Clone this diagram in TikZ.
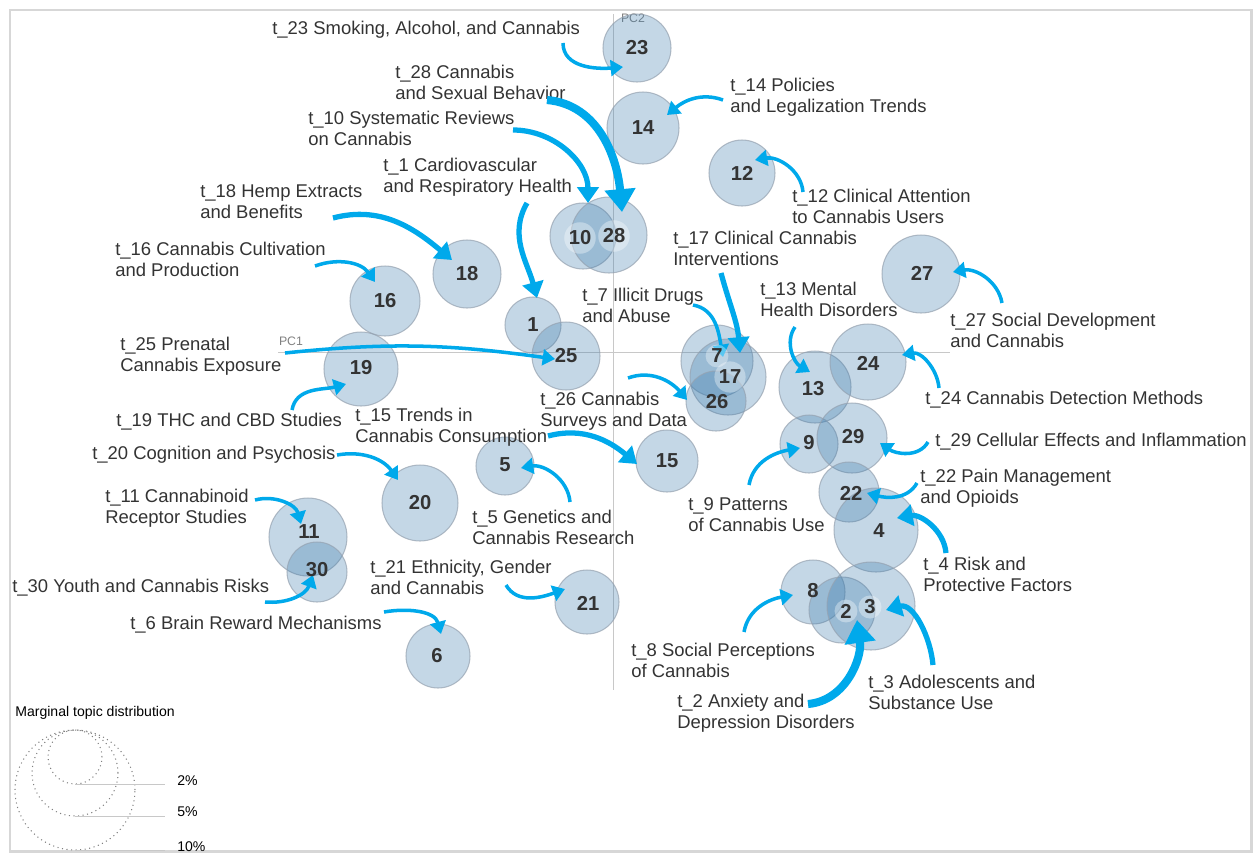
\documentclass[tikz,border=0pt]{standalone}
\usepackage{fontspec}
\setmainfont{Liberation Sans}
\usetikzlibrary{arrows.meta}
\definecolor{arrowblue}{RGB}{0,169,235}
\definecolor{bubblefill}{RGB}{58,122,172}
\definecolor{bubbleline}{RGB}{150,162,176}
\definecolor{labeltext}{RGB}{51,51,51}
\definecolor{framegray}{RGB}{215,215,215}
\definecolor{axisgray}{RGB}{200,200,200}

\begin{document}
\begin{tikzpicture}[x=0.02cm, y=-0.02cm,
bubble/.style={circle, fill=bubblefill, fill opacity=0.3, draw=bubbleline, draw opacity=0.7, line width=0.6pt, minimum size=#1*0.4mm, inner sep=0},
num/.style={font=\fontsize{11.5}{12}\selectfont\bfseries, text=labeltext, inner sep=0},
halo/.style={num, circle, fill=white, fill opacity=0.35, text opacity=1, inner sep=1pt},
topic/.style={anchor=west, align=left, inner sep=0, text=labeltext, font=\fontsize{10.5}{11.9}\selectfont},
pointer/.style={draw=arrowblue, line width=2pt, -{Triangle[width=9pt,length=7pt]}},
pointer thick/.style={pointer, line width=3pt, -{Triangle[width=12pt,length=9pt]}},
pointer heavy/.style={pointer, line width=4.6pt, -{Triangle[width=17pt,length=13pt]}},
axis/.style={draw=axisgray, line width=0.5pt},
pclabel/.style={text=gray, font=\fontsize{7}{8}\selectfont, inner sep=0},
ring/.style={circle, draw=gray, dotted, line width=0.6pt, minimum size=#1*0.4mm, inner sep=0},
legendtext/.style={anchor=west, inner sep=0, font=\fontsize{8}{9}\selectfont}]

\useasboundingbox (0,0) rectangle (1255,853);
\draw[draw=framegray, line width=1.7pt] (10,10) rectangle (1251,851);

% principal components
\draw[axis] (613,14) -- (613,690);
\draw[axis] (278,352) -- (950,352);
\node[pclabel] (pc2) at (633,18) {PC2};
\node[pclabel] (pc1) at (291,341) {PC1};

% topic bubbles
\node[bubble=34] (b23) at (637,48) {};
\node[bubble=36] (b14) at (643,128) {};
\node[bubble=33] (b12) at (742,173) {};
\node[bubble=33] (b10) at (583,236) {};
\node[bubble=38] (b28) at (609,235) {};
\node[bubble=34] (b18) at (467,274) {};
\node[bubble=35] (b16) at (385,301) {};
\node[bubble=28] (b1) at (533,325) {};
\node[bubble=34] (b25) at (566,356) {};
\node[bubble=37] (b19) at (361,369) {};
\node[bubble=36] (b7) at (717,361) {};
\node[bubble=38] (b17) at (728,377) {};
\node[bubble=30] (b26) at (716,401) {};
\node[bubble=36] (b13) at (815,387) {};
\node[bubble=38] (b24) at (868,362) {};
\node[bubble=29] (b9) at (809,444) {};
\node[bubble=35] (b29) at (852,438) {};
\node[bubble=30] (b22) at (849,492) {};
\node[bubble=42] (b4) at (876,530) {};
\node[bubble=39] (b27) at (921,274) {};
\node[bubble=32] (b8) at (813,592) {};
\node[bubble=33] (b2) at (842,610) {};
\node[bubble=44] (b3) at (871,606) {};
\node[bubble=31] (b15) at (667,461) {};
\node[bubble=29] (b5) at (505,466) {};
\node[bubble=38] (b20) at (420,503) {};
\node[bubble=39] (b11) at (308,537) {};
\node[bubble=30] (b30) at (317,572) {};
\node[bubble=32] (b21) at (587,602) {};
\node[bubble=32] (b6) at (438,656) {};

% topic names
\node[topic] (l23) at (272,30) {t\_23 Smoking, Alcohol, and Cannabis};
\node[topic] (l28) at (395,82) {t\_28 Cannabis\\and Sexual Behavior};
\node[topic] (l10) at (308,128) {t\_10 Systematic Reviews\\on Cannabis};
\node[topic] (l1) at (383,177) {t\_1 Cardiovascular\\and Respiratory Health};
\node[topic] (l18) at (200,201.5) {t\_18 Hemp Extracts\\and Benefits};
\node[topic] (l16) at (115,259.5) {t\_16 Cannabis Cultivation\\and Production};
\node[topic] (l25) at (120,356.5) {t\_25 Prenatal\\Cannabis Exposure};
\node[topic] (l19) at (116,422) {t\_19 THC and CBD Studies};
\node[topic] (l15) at (355,427.5) {t\_15 Trends in\\Cannabis Consumption};
\node[topic] (l26) at (540,411) {t\_26 Cannabis\\Surveys and Data};
\node[topic] (l20) at (92,455) {t\_20 Cognition and Psychosis};
\node[topic] (l5) at (472,527.5) {t\_5 Genetics and\\Cannabis Research};
\node[topic] (l11) at (105,508) {t\_11 Cannabinoid\\Receptor Studies};
\node[topic] (l30) at (12,588) {t\_30 Youth and Cannabis Risks};
\node[topic] (l6) at (130,625) {t\_6 Brain Reward Mechanisms};
\node[topic] (l21) at (370,577) {t\_21 Ethnicity, Gender\\and Cannabis};
\node[topic] (l7) at (582,305.5) {t\_7 Illicit Drugs\\and Abuse};
\node[topic] (l17) at (673,248.5) {t\_17 Clinical Cannabis\\Interventions};
\node[topic] (l13) at (760,299.5) {t\_13 Mental\\Health Disorders};
\node[topic] (l14) at (730,97) {t\_14 Policies\\and Legalization Trends};
\node[topic] (l12) at (792,206.5) {t\_12 Clinical Attention\\to Cannabis Users};
\node[topic] (l27) at (950,330.5) {t\_27 Social Development\\and Cannabis};
\node[topic] (l24) at (925,400) {t\_24 Cannabis Detection Methods};
\node[topic] (l29) at (935,442) {t\_29 Cellular Effects and Inflammation};
\node[topic] (l22) at (920,488) {t\_22 Pain Management\\and Opioids};
\node[topic] (l4) at (923,574.5) {t\_4 Risk and\\Protective Factors};
\node[topic] (l9) at (688,515) {t\_9 Patterns\\of Cannabis Use};
\node[topic] (l8) at (631,660.5) {t\_8 Social Perceptions\\of Cannabis};
\node[topic] (l2) at (677,713) {t\_2 Anxiety and\\Depression Disorders};
\node[topic] (l3) at (868,692.5) {t\_3 Adolescents and\\Substance Use};

% pointers from names to bubbles
\draw[pointer] ([shift={(291,13)}]l23.west) to[out=270,in=185] ([shift={(-14,19)}]b23.center);
\draw[pointer heavy] ([shift={(152,18)}]l28.west) to[out=-5,in=95] ([shift={(13,-23)}]b28.center);
\draw[pointer thick] ([shift={(205,2)}]l10.west) to[out=0,in=90] ([shift={(5,-33)}]b10.center);
\draw[pointer thick] ([shift={(144,26)}]l1.west) to[out=240,in=105] ([shift={(4,-27)}]b1.center);
\draw[pointer thick] ([shift={(133,16.5)}]l18.west) to[out=15,in=140] ([shift={(-15,-14)}]b18.center);
\draw[pointer] ([shift={(200,6.5)}]l16.west) to[out=20,in=125] ([shift={(-10,-19)}]b16.center);
\draw[pointer] ([shift={(165,-3.5)}]l25.west) to[out=6,in=172] ([shift={(-11,3)}]b25.center);
\draw[pointer] ([shift={(176,-12)}]l19.west) to[out=80,in=195] ([shift={(-15,15)}]b19.center);
\draw[pointer thick] ([shift={(193,8.5)}]l15.west) to[out=15,in=140] ([shift={(-30,3)}]b15.center);
\draw[pointer] ([shift={(88,-33)}]l26.west) to[out=20,in=130] ([shift={(-29,-1)}]b26.center);
\draw[pointer] ([shift={(245,0)}]l20.west) to[out=10,in=125] ([shift={(-22,-23)}]b20.center);
\draw[pointer] ([shift={(98,-25.5)}]l5.west) to[out=95,in=10] ([shift={(16,2)}]b5.center);
\draw[pointer] ([shift={(150,-8)}]l11.west) to[out=15,in=105] ([shift={(-7,-13)}]b11.center);
\draw[pointer] ([shift={(253,14)}]l30.west) to[out=-5,in=250] ([shift={(-4,3)}]b30.center);
\draw[pointer] ([shift={(254,-13)}]l6.west) to[out=10,in=105] ([shift={(3,-22)}]b6.center);
\draw[pointer] ([shift={(136,8)}]l21.west) to[out=-60,in=200] ([shift={(-22,-13)}]b21.center);
\draw[pointer] ([shift={(111,-0.5)}]l7.west) to[out=-10,in=100] ([shift={(6,-4)}]b7.center);
\draw[pointer thick] ([shift={(48,24.5)}]l17.west) to[out=-75,in=95] ([shift={(12,-24)}]b17.center);
\draw[pointer] ([shift={(35,27.5)}]l13.west) to[out=235,in=150] ([shift={(-5,-15)}]b13.center);
\draw[pointer] ([shift={(-7,3)}]l14.west) to[out=160,in=40] ([shift={(24,-13)}]b14.center);
\draw[pointer] ([shift={(11,-14.5)}]l12.west) to[out=95,in=10] ([shift={(13,-13)}]b12.center);
\draw[pointer] ([shift={(52,-27.5)}]l27.west) to[out=100,in=10] ([shift={(32,-2)}]b27.center);
\draw[pointer] ([shift={(14,-12)}]l24.west) to[out=95,in=10] ([shift={(34,-7)}]b24.center);
\draw[pointer] ([shift={(-7,0)}]l29.west) to[out=240,in=-35] ([shift={(28,5)}]b29.center);
\draw[pointer] ([shift={(-3,-5)}]l22.west) to[out=240,in=-15] ([shift={(18,1)}]b22.center);
\draw[pointer thick] ([shift={(23,-21.5)}]l4.west) to[out=95,in=10] ([shift={(21,-12)}]b4.center);
\draw[pointer] ([shift={(61,-30)}]l9.west) to[out=80,in=190] ([shift={(-9,4)}]b9.center);
\draw[pointer] ([shift={(113,-28.5)}]l8.west) to[out=80,in=190] ([shift={(-20,3)}]b8.center);
\draw[pointer heavy] ([shift={(131,-9)}]l2.west) to[out=5,in=278] ([shift={(15,10)}]b2.center);
\draw[pointer thick] ([shift={(65,-27.5)}]l3.west) to[out=95,in=15] ([shift={(15,4)}]b3.center);

% bubble numbers
\node[num] (n23) at (637,48) {23};
\node[num] (n14) at (643,128) {14};
\node[num] (n12) at (742,173) {12};
\node[halo] (n10) at (580,238) {10};
\node[halo] (n28) at (614,236) {28};
\node[num] (n18) at (467,274) {18};
\node[num] (n16) at (385,301) {16};
\node[num] (n1) at (533,325) {1};
\node[num] (n25) at (566,356) {25};
\node[num] (n19) at (361,368) {19};
\node[halo] (n7) at (717,356) {7};
\node[halo] (n17) at (730,377) {17};
\node[num] (n26) at (717,402) {26};
\node[num] (n13) at (813,389) {13};
\node[num] (n24) at (868,363) {24};
\node[num] (n9) at (809,443) {9};
\node[num] (n29) at (853,437) {29};
\node[num] (n22) at (851,493) {22};
\node[num] (n4) at (879,531) {4};
\node[num] (n27) at (922,273) {27};
\node[num] (n8) at (813,591) {8};
\node[halo] (n2) at (846,611) {2};
\node[halo] (n3) at (870,607) {3};
\node[num] (n15) at (667,461) {15};
\node[num] (n5) at (505,465) {5};
\node[num] (n20) at (420,503) {20};
\node[num] (n11) at (309,532) {11};
\node[num] (n30) at (317,570) {30};
\node[num] (n21) at (588,603) {21};
\node[num] (n6) at (437,656) {6};

% marginal topic distribution legend
\node[legendtext] (legendtitle) at (15,713) {Marginal topic distribution};
\node[ring=60] (r10) at (75,790) {};
\node[ring=43] (r5) at (75,773) {};
\node[ring=27] (r2) at (75,757) {};
\draw[axis] (r2.south) -- ++(90,0);
\draw[axis] (r5.south) -- ++(90,0);
\draw[axis] (r10.south) -- ++(90,0);
\node[legendtext] (p2) at (177,781) {2\%};
\node[legendtext] (p5) at (177,812) {5\%};
\node[legendtext] (p10) at (177,847) {10\%};

\end{tikzpicture}
\end{document}
